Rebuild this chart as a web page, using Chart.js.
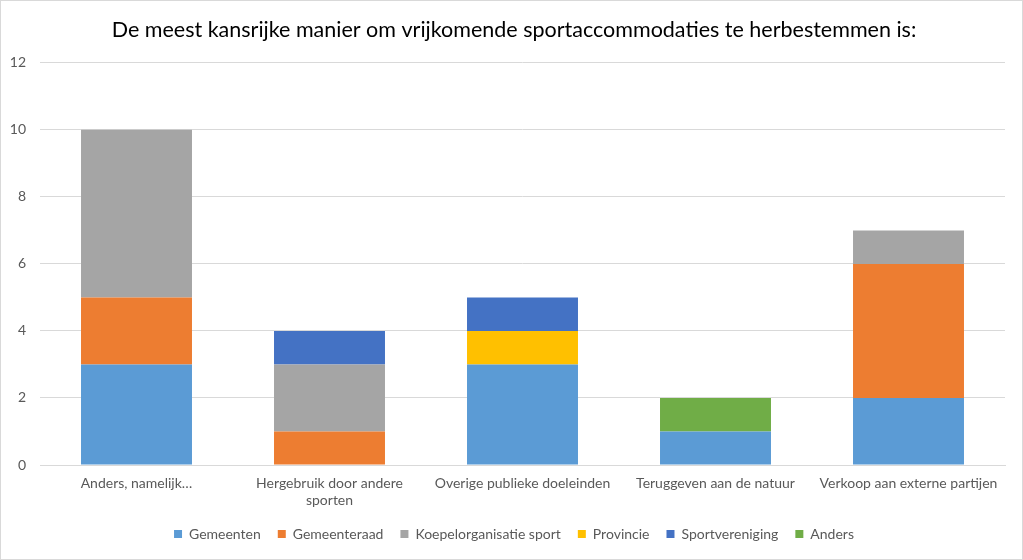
<!DOCTYPE html>
<html>
<head>
<meta charset="utf-8">
<script src="https://cdn.jsdelivr.net/npm/chart.js@4"></script>
<style>
  html, body { margin: 0; padding: 0; background: #fff; }
  #wrap { width: 1023px; height: 560px; box-sizing: border-box; border: 1px solid #d9d9d9; position: relative; }
</style>
</head>
<body>
<div id="wrap"><canvas id="chart"></canvas></div>
<script>
const categories = [
    'Anders, namelijk…',
    ['Hergebruik door andere', 'sporten'],
    'Overige publieke doeleinden',
    'Teruggeven aan de natuur',
    'Verkoop aan externe partijen'
];
const gemeenten       = [3, 0, 3, 1, 2];
const gemeenteraad    = [2, 1, 0, 0, 4];
const koepelorg       = [5, 2, 0, 0, 1];
const provincie       = [0, 0, 1, 0, 0];
const sportvereniging = [0, 1, 1, 0, 0];
const anders          = [0, 0, 0, 1, 0];

const series = [
    { label: 'Gemeenten', data: gemeenten, color: '#5b9bd5' },
    { label: 'Gemeenteraad', data: gemeenteraad, color: '#ed7d31' },
    { label: 'Koepelorganisatie sport', data: koepelorg, color: '#a5a5a5' },
    { label: 'Provincie', data: provincie, color: '#ffc000' },
    { label: 'Sportvereniging', data: sportvereniging, color: '#4472c4' },
    { label: 'Anders', data: anders, color: '#70ad47' }
];

Chart.defaults.font.family = 'Lato, "Open Sans", sans-serif';
Chart.defaults.color = '#595959';

// title and legend in the original sit a bit right of the canvas centre
const shiftBlocks = {
    id: 'shiftBlocks',
    afterLayout(chart) {
        if (chart.titleBlock) chart.titleBlock.left += 22;
        if (chart.legend) chart.legend.left += 22;
    }
};

new Chart(document.getElementById('chart'), {
    type: 'bar',
    data: {
        labels: categories,
        datasets: series.map(s => ({
            label: s.label,
            data: s.data,
            backgroundColor: s.color,
            borderWidth: 0,
            barPercentage: 0.575,
            categoryPercentage: 1
        }))
    },
    options: {
        responsive: true,
        maintainAspectRatio: false,
        animation: false,
        layout: { padding: { left: 0, right: 17, top: 0, bottom: 8 } },
        plugins: {
            title: {
                display: true,
                text: 'De meest kansrijke manier om vrijkomende sportaccommodaties te herbestemmen is:',
                color: '#000',
                font: { size: 21.5, weight: 'normal' },
                padding: { top: 16, bottom: 20 }
            },
            legend: {
                position: 'bottom',
                labels: {
                    boxWidth: 8,
                    boxHeight: 8,
                    padding: 17,
                    color: '#595959',
                    font: { size: 14 }
                }
            },
            tooltip: { enabled: false }
        },
        scales: {
            x: {
                stacked: true,
                grid: { display: false },
                border: { color: '#d9d9d9' },
                ticks: { color: '#595959', font: { size: 14 }, maxRotation: 0, padding: 2 },
                afterFit: s => { s.height = 45; }
            },
            y: {
                stacked: true,
                min: 0,
                max: 12,
                ticks: { stepSize: 2, color: '#595959', font: { size: 14 }, padding: 14 },
                grid: { color: '#d9d9d9', drawTicks: false },
                border: { display: false },
                afterFit: s => { s.width = 39; }
            }
        }
    },
    plugins: [shiftBlocks]
});
</script>
</body>
</html>
